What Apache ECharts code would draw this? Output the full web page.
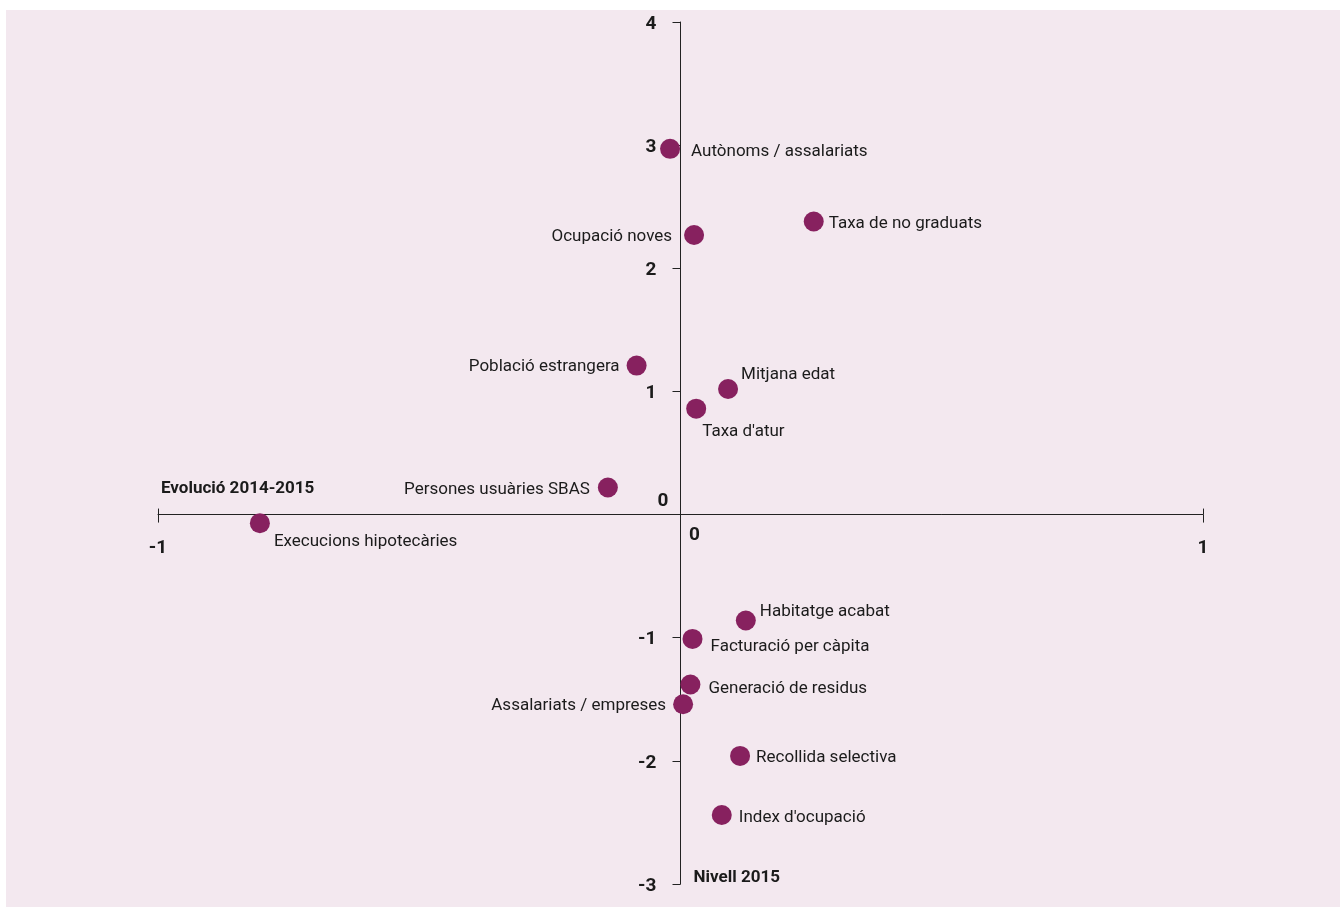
<!DOCTYPE html>
<html>
<head>
<meta charset="utf-8">
<script src="https://cdn.jsdelivr.net/npm/echarts@6/dist/echarts.min.js"></script>
<style>
html,body{margin:0;padding:0;background:#ffffff;width:1340px;height:907px;overflow:hidden;}
#chart{position:absolute;left:6px;top:10px;width:1334px;height:897px;background:#f3e8ef;}
</style>
</head>
<body>
<div id="chart"></div>
<script>
// ---- data ----
var names = [
  "Autònoms / assalariats",
  "Taxa de no graduats",
  "Ocupació noves",
  "Població estrangera",
  "Mitjana edat",
  "Taxa d'atur",
  "Persones usuàries SBAS",
  "Execucions hipotecàries",
  "Habitatge acabat",
  "Facturació per càpita",
  "Generació de residus",
  "Assalariats / empreses",
  "Recollida selectiva",
  "Index d'ocupació"
];
var evolucio = [-0.020, 0.255, 0.026, -0.084, 0.091, 0.030, -0.139, -0.805, 0.125, 0.023, 0.019, 0.005, 0.114, 0.079];
var nivell   = [ 2.97,  2.38,  2.27,  1.21,  1.02,  0.86,  0.22, -0.07, -0.86, -1.01, -1.38, -1.54, -1.96, -2.44];
var xTicks = [-1, 0, 1];
var yTicks = [-3, -2, -1, 0, 1, 2, 3, 4];
var xName = "Evolució 2014-2015";
var yName = "Nivell 2015";

// ---- label placement (style only) ----
var labelPlace = {
  "Autònoms / assalariats": ["right", 11, 3],
  "Taxa de no graduats": ["right", 5, 2],
  "Ocupació noves": ["left", -12, 2],
  "Població estrangera": ["left", -7, 1],
  "Mitjana edat": ["right", 3, -14],
  "Taxa d'atur": ["right", -4, 23],
  "Persones usuàries SBAS": ["left", -8, 2],
  "Execucions hipotecàries": ["right", 4, 19],
  "Habitatge acabat": ["right", 4, -9],
  "Facturació per càpita": ["right", 8, 8],
  "Generació de residus": ["right", 8, 4],
  "Assalariats / empreses": ["left", -7, 2],
  "Recollida selectiva": ["right", 6, 2],
  "Index d'ocupació": ["right", 7, 3]
};

var FONT = "Roboto, 'Liberation Sans', sans-serif";
var TXT = '#1b1b1b';
var AX = '#222222';

var W = 1334, H = 897;
var G = { left: 152, right: 137, top: 12, bottom: 23 };
var gridW = W - G.left - G.right, gridH = H - G.top - G.bottom;
var xMin = xTicks[0], xMax = xTicks[xTicks.length - 1];
var yMin = yTicks[0], yMax = yTicks[yTicks.length - 1];
// move the axes so they cross at zero (value -> pixel through the axis scale)
var yAxisOffset = -gridW * (0 - xMin) / (xMax - xMin);
var xAxisOffset = -gridH * (0 - yMin) / (yMax - yMin);

var points = names.map(function (n, i) {
  var p = labelPlace[n];
  return {
    name: n,
    value: [evolucio[i], nivell[i]],
    label: { position: p[0], offset: [p[1], p[2]] }
  };
});

var chart = echarts.init(document.getElementById('chart'), null, { renderer: 'canvas' });
chart.setOption({
  animation: false,
  backgroundColor: '#f3e8ef',
  grid: { left: G.left, right: G.right, top: G.top, bottom: G.bottom, containLabel: false, outerBoundsMode: 'none' },
  xAxis: [{
    type: 'value',
    min: xMin, max: xMax, interval: 1,
    position: 'bottom',
    offset: xAxisOffset,
    axisLine: { onZero: false, lineStyle: { color: AX, width: 1 } },
    axisTick: { show: true, length: 8, lineStyle: { color: AX } },
    splitLine: { show: false },
    axisLabel: {
      margin: 8,
      hideOverlap: false,
      formatter: function (v) { return v === 0 ? '{z|0}' : '{n|' + v + '}'; },
      rich: {
        n: { fontFamily: FONT, fontSize: 19, fontWeight: 'bold', color: TXT, padding: [16, 0, 0, 0] },
        z: { fontFamily: FONT, fontSize: 19, fontWeight: 'bold', color: TXT, padding: [3, 0, 0, 28] }
      }
    },
    name: xName,
    nameLocation: 'start',
    nameGap: -3,
    nameMoveOverlap: false,
    nameTextStyle: {
      fontFamily: FONT, fontSize: 17, fontWeight: 'bold', color: TXT,
      align: 'left', verticalAlign: 'bottom', padding: [0, 0, 17, 0]
    }
  }, {
    type: 'value',
    min: xMin, max: xMax, interval: 1,
    position: 'bottom',
    offset: xAxisOffset,
    axisLine: { show: false, onZero: false },
    axisTick: { show: true, inside: true, length: 6, lineStyle: { color: AX } },
    axisLabel: { show: false },
    splitLine: { show: false }
  }],
  yAxis: {
    type: 'value',
    min: yMin, max: yMax, interval: 1,
    position: 'left',
    offset: yAxisOffset,
    axisLine: { onZero: false, lineStyle: { color: AX, width: 1 } },
    axisTick: { show: true, length: 8, lineStyle: { color: AX } },
    splitLine: { show: false },
    axisLabel: {
      margin: 12,
      hideOverlap: false,
      formatter: function (v) { return v === 0 ? '{z|0}' : '{n|' + v + '}'; },
      rich: {
        n: { fontFamily: FONT, fontSize: 19, fontWeight: 'bold', color: TXT, padding: [4, 12, 0, 0] },
        z: { fontFamily: FONT, fontSize: 19, fontWeight: 'bold', color: TXT, padding: [4, 0, 30, 0] }
      }
    },
    name: yName,
    nameLocation: 'start',
    nameGap: -6,
    nameMoveOverlap: false,
    nameTextStyle: {
      fontFamily: FONT, fontSize: 17, fontWeight: 'bold', color: TXT,
      align: 'left', verticalAlign: 'middle', padding: [0, 0, 0, 13]
    }
  },
  series: [{
    type: 'scatter',
    xAxisIndex: 0,
    symbol: 'circle',
    symbolSize: 20,
    itemStyle: { color: '#87215f', opacity: 1 },
    label: {
      show: true,
      distance: 0,
      formatter: '{b}',
      fontFamily: FONT,
      fontSize: 17,
      color: TXT
    },
    emphasis: { disabled: true },
    data: points
  }]
});
</script>
</body>
</html>
